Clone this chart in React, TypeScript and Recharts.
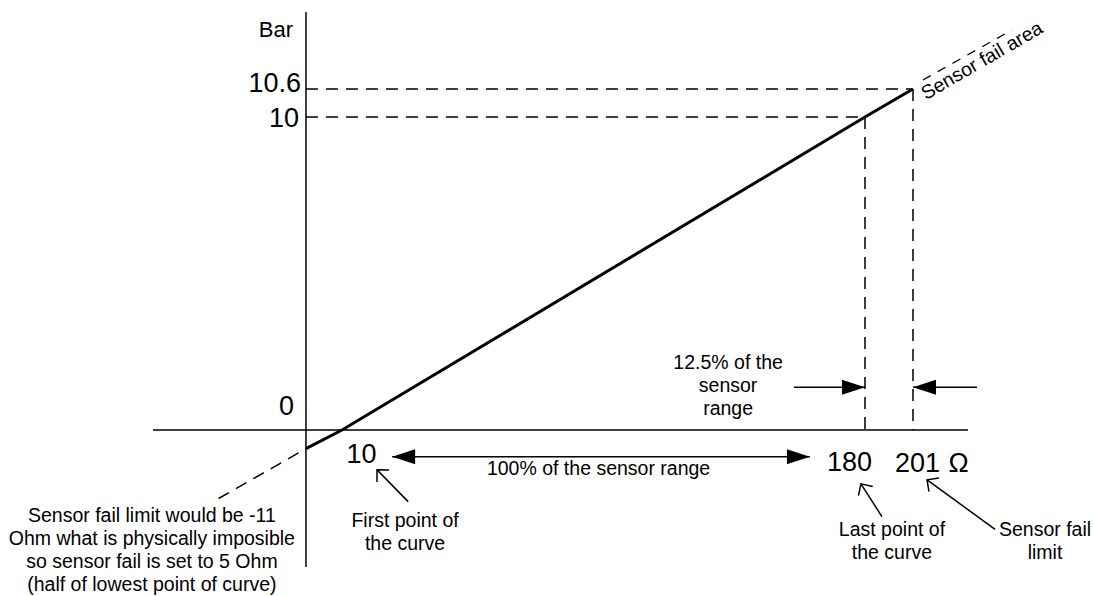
import React from 'react';
import { LineChart, Line, XAxis, YAxis, ReferenceLine, ReferenceDot } from 'recharts';

// sensor curve, resistance (Ohm) -> pressure (Bar)
const extrapOhm = [-24, 0];
const extrapBar = [-2.2, -0.6];
const curveOhm = [0, 10, 180, 201];
const curveBar = [-0.6, 0, 10, 10.6];

// the drawing is a sketch, not to scale: break points of both axes
const ohmBreaks = [-42, 0, 10, 180, 201, 226];
const ohmStops = [0, 0.1877, 0.2319, 0.8736, 0.9325, 1];
const barBreaks = [-4.4, 0, 10, 10.6, 13];
const barStops = [0, 0.2468, 0.8108, 0.8613, 1];

const barTicks = [0, 10, 10.6];
const ohmTicks = [10, 180, 201];
const barTickText = ['0', '10', '10.6'];
const ohmTickText = ['10', '180', '201'];

const FONT = '"Liberation Sans", Arial, sans-serif';

// piecewise linear scale with the d3 interface recharts expects
function sketchScale(breaks: number[], stops: number[]): any {
  let rng = [0, 1];
  const s: any = (v: number) => {
    let i = 0;
    while (i < breaks.length - 2 && v > breaks[i + 1]) i++;
    const t = (v - breaks[i]) / (breaks[i + 1] - breaks[i]);
    const f = stops[i] + t * (stops[i + 1] - stops[i]);
    return rng[0] + f * (rng[1] - rng[0]);
  };
  s.domain = (d?: number[]) => (d ? s : [breaks[0], breaks[breaks.length - 1]]);
  s.range = (r?: number[]) => {
    if (r) {
      rng = [...r];
      return s;
    }
    return rng;
  };
  s.copy = () => sketchScale(breaks, stops).range(rng);
  s.ticks = () => breaks;
  s.tickFormat = () => (v: number) => String(v);
  s.nice = () => s;
  s.clamp = () => s;
  s.invert = (px: number) => {
    const f = (px - rng[0]) / (rng[1] - rng[0]);
    let i = 0;
    while (i < stops.length - 2 && f > stops[i + 1]) i++;
    const t = (f - stops[i]) / (stops[i + 1] - stops[i]);
    return breaks[i] + t * (breaks[i + 1] - breaks[i]);
  };
  return s;
}

const ohmScale = sketchScale(ohmBreaks, ohmStops);
const barScale = sketchScale(barBreaks, barStops);

const extrapData = extrapOhm.map((ohm, i) => ({ ohm, bar: extrapBar[i] }));
const curveData = curveOhm.map((ohm, i) => ({ ohm, bar: curveBar[i] }));

type Note = { ohm: number; bar: number; lines: string[] };

const notes: Note[] = [
  { ohm: 93.4, bar: -1.44, lines: ['100% of the sensor range'] },
  { ohm: 135.5, bar: 1.95, lines: ['12.5% of the', 'sensor', 'range'] },
  { ohm: 30.5, bar: -3.1, lines: ['First point of', 'the curve'] },
  { ohm: 191.8, bar: -3.42, lines: ['Last point of', 'the curve'] },
  { ohm: 261, bar: -3.42, lines: ['Sensor fail', 'limit'] },
  {
    ohm: -42.3,
    bar: -2.97,
    lines: [
      'Sensor fail limit would be -11',
      'Ohm what is physically imposible',
      'so sensor fail is set to 5 Ohm',
      '(half of lowest point of curve)',
    ],
  },
];

const textLabel =
  (lines: string[], size: number, anchor: 'start' | 'middle' | 'end', dx = 0, dy = 0, rotate = 0) =>
  (props: any) => {
    const vb = props.viewBox || {};
    const x = (vb.x || 0) + dx;
    const y = (vb.y || 0) + dy;
    return (
      <text
        x={x}
        y={y}
        textAnchor={anchor}
        fontSize={size}
        fontFamily={FONT}
        fill="#000"
        transform={rotate ? `rotate(${rotate} ${x} ${y})` : undefined}
      >
        {lines.map((t, i) => (
          <tspan key={i} x={x} dy={i === 0 ? 0 : 23}>
            {t}
          </tspan>
        ))}
      </text>
    );
  };

const arrowShape = (kind: 'solid' | 'double' | 'open') => (p: any) => {
  const { x1, y1, x2, y2 } = p;
  const a = Math.atan2(y2 - y1, x2 - x1);
  const filledHead = (x: number, y: number, ang: number) => {
    const L = 23;
    const W = 7.5;
    const bx = x - L * Math.cos(ang);
    const by = y - L * Math.sin(ang);
    const nx = -Math.sin(ang) * W;
    const ny = Math.cos(ang) * W;
    return <polygon points={`${x},${y} ${bx + nx},${by + ny} ${bx - nx},${by - ny}`} fill="#000" />;
  };
  const openHead = (x: number, y: number, ang: number) => {
    const L = 12;
    const d = Math.PI / 4;
    return (
      <path
        d={`M${x - L * Math.cos(ang - d)},${y - L * Math.sin(ang - d)} L${x},${y} L${x - L * Math.cos(ang + d)},${y - L * Math.sin(ang + d)}`}
        fill="none"
        stroke="#000"
        strokeWidth={1.5}
      />
    );
  };
  return (
    <g>
      <line x1={x1} y1={y1} x2={x2} y2={y2} stroke="#000" strokeWidth={1.5} />
      {kind === 'open' ? openHead(x2, y2, a) : filledHead(x2, y2, a)}
      {kind === 'double' && filledHead(x1, y1, a + Math.PI)}
    </g>
  );
};

const App: React.FC = () => {
  const guides = [
    [{ x: 0, y: 10.6 }, { x: 201, y: 10.6 }],
    [{ x: 0, y: 10 }, { x: 180, y: 10 }],
    [{ x: 180, y: 10 }, { x: 180, y: 0 }],
    [{ x: 201, y: 10.6 }, { x: 201, y: 0 }],
  ];
  const barTickOffset = [
    [-12, -15],
    [-7, 10],
    [-5, 3],
  ];
  const ohmTickOffset = [
    [19.5, 33],
    [-15.5, 41],
    [4.5, 42],
  ];

  return (
    <div style={{ position: 'absolute', left: 0, top: 0, width: 1094, height: 596, background: '#fff' }}>
      <LineChart width={1094} height={596} margin={{ top: 12, left: 153, right: 126, bottom: 29 }}>
        <XAxis type="number" dataKey="ohm" domain={[-42, 226]} scale={ohmScale} allowDataOverflow hide />
        <YAxis type="number" dataKey="bar" domain={[-4.4, 13]} scale={barScale} allowDataOverflow hide />

        {/* axes through the origin */}
        <ReferenceLine x={0} stroke="#000" strokeWidth={1.5} ifOverflow="visible" />
        <ReferenceLine y={0} stroke="#000" strokeWidth={1.5} ifOverflow="visible" />

        {guides.map((seg, i) => (
          <ReferenceLine
            key={`g${i}`}
            segment={seg}
            stroke="#000"
            strokeWidth={1.5}
            strokeDasharray="12 8"
            ifOverflow="visible"
          />
        ))}

        {/* sensor fail area */}
        <ReferenceLine
          segment={[
            { x: 205.5, y: 10.88 },
            { x: 246, y: 12.44 },
          ]}
          stroke="#000"
          strokeWidth={1.3}
          strokeDasharray="9 8"
          ifOverflow="visible"
        />

        <Line
          data={extrapData}
          dataKey="bar"
          stroke="#000"
          strokeWidth={1.5}
          strokeDasharray="12 8"
          dot={false}
          activeDot={false}
          isAnimationActive={false}
        />
        <Line
          data={curveData}
          dataKey="bar"
          stroke="#000"
          strokeWidth={3}
          dot={false}
          activeDot={false}
          isAnimationActive={false}
        />

        {/* dimension arrows */}
        <ReferenceLine
          segment={[
            { x: 26.3, y: -0.86 },
            { x: 162.1, y: -0.86 },
          ]}
          shape={arrowShape('double')}
          ifOverflow="visible"
        />
        <ReferenceLine
          segment={[
            { x: 156.9, y: 1.37 },
            { x: 180, y: 1.37 },
          ]}
          shape={arrowShape('solid')}
          ifOverflow="visible"
        />
        <ReferenceLine
          segment={[
            { x: 230.1, y: 1.37 },
            { x: 201, y: 1.37 },
          ]}
          shape={arrowShape('solid')}
          ifOverflow="visible"
        />

        {/* pointers to the axis labels */}
        <ReferenceLine
          segment={[
            { x: 31.5, y: -2.3 },
            { x: 21.4, y: -1.28 },
          ]}
          shape={arrowShape('open')}
          ifOverflow="visible"
        />
        <ReferenceLine
          segment={[
            { x: 187.4, y: -2.78 },
            { x: 178.7, y: -1.73 },
          ]}
          shape={arrowShape('open')}
          ifOverflow="visible"
        />
        <ReferenceLine
          segment={[
            { x: 238.3, y: -3.19 },
            { x: 207.4, y: -1.6 },
          ]}
          shape={arrowShape('open')}
          ifOverflow="visible"
        />

        {/* tick labels */}
        {barTicks.map((v, i) => (
          <ReferenceDot
            key={`bt${i}`}
            x={0}
            y={v}
            r={0}
            stroke="none"
            fill="none"
            ifOverflow="visible"
            label={textLabel([barTickText[i]], 27, 'end', barTickOffset[i][0], barTickOffset[i][1])}
          />
        ))}
        {ohmTicks.map((v, i) => (
          <ReferenceDot
            key={`ot${i}`}
            x={v}
            y={0}
            r={0}
            stroke="none"
            fill="none"
            ifOverflow="visible"
            label={textLabel([ohmTickText[i]], 27, 'middle', ohmTickOffset[i][0], ohmTickOffset[i][1])}
          />
        ))}
        <ReferenceDot x={201} y={0} r={0} stroke="none" fill="none" ifOverflow="visible" label={textLabel(['Ω'], 27, 'middle', 45.5, 42)} />
        <ReferenceDot x={0} y={13} r={0} stroke="none" fill="none" ifOverflow="visible" label={textLabel(['Bar'], 22, 'end', -13, 25)} />

        {/* notes */}
        {notes.map((n, i) => (
          <ReferenceDot
            key={`n${i}`}
            x={n.ohm}
            y={n.bar}
            r={0}
            stroke="none"
            fill="none"
            ifOverflow="visible"
            label={textLabel(n.lines, 19.5, 'middle')}
          />
        ))}
        <ReferenceDot
          x={206.9}
          y={10.36}
          r={0}
          stroke="none"
          fill="none"
          ifOverflow="visible"
          label={textLabel(['Sensor fail area'], 19.5, 'start', 0, 0, -30)}
        />
      </LineChart>
    </div>
  );
};

export default App;
